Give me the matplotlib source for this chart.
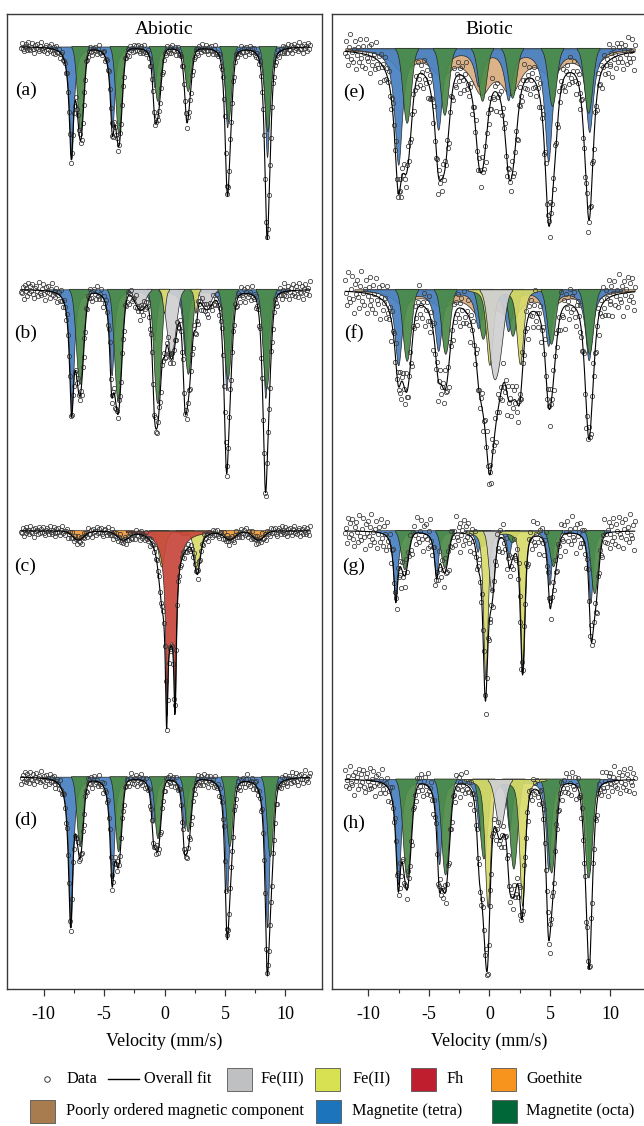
import numpy as np
import matplotlib.pyplot as plt
from matplotlib.patches import Rectangle
from matplotlib.colors import to_rgba

plt.rcParams['font.family'] = ['Liberation Serif', 'DejaVu Serif']
plt.rcParams['axes.unicode_minus'] = False

# velocity channels (mm/s)
vel = np.linspace(-11.9, 12.0, 300)
vel_fine = np.linspace(-11.9, 12.0, 2400)

# fixed residual pattern (units of the noise level of each spectrum)
resid = [0.3, -1.2, 0.8, 1.5, -0.4, -0.9, 0.1, 1.1, -1.6, 0.5, 0.9, -0.2, -1.3, 0.6, 1.8,
         -0.7, 0.2, -1.0, 0.4, 1.3, -0.5, -1.8, 0.7, 0.0, 1.0, -0.3, -1.1, 1.6, 0.2, -0.6,
         0.9, -1.4, 0.5, 1.2, -0.8, -0.1, 1.4, -1.5, 0.3, 0.6, -0.9, 1.7, -0.2, -1.2, 0.8,
         0.1, -0.4, 1.1, -1.7, 0.4, 0.7, -0.6, 1.9, -1.0, 0.2, -0.3, 1.2, -1.3, 0.6, -0.8]
noise = {'a': 3, 'b': 5, 'c': 3, 'd': 4, 'e': 10, 'f': 12, 'g': 10, 'h': 8}

# line positions (mm/s) and depths (px) of each fitted component
# (a) abiotic
a_tetra_v = [-7.71, -4.32, -0.83, 1.82, 5.18, 8.48]
a_tetra_d = [112, 80, 40, 35, 80, 110]
a_octa_v = [-6.94, -3.77, -0.55, 1.96, 5.30, 8.55]
a_octa_d = [85, 88, 55, 45, 75, 85]
# (b)
b_tetra_v = [-7.69, -4.38, -0.85, 1.68, 5.12, 8.34]
b_tetra_d = [121, 85, 50, 65, 100, 108]
b_octa_v = [-6.99, -3.83, -0.57, 1.97, 5.25, 8.45]
b_octa_d = [95, 112, 114, 85, 90, 100]
b_fe3_v = [-2.0, 0.58, 3.5]
b_fe3_d = [18, 65, 17]
b_fe2_v = [0.0, 2.6]
b_fe2_d = [24, 24]
# (c)
c_fh_v = [0.17, 0.86, 0.5]
c_fh_d = [125, 125, 85]
c_fh_w = [0.12, 0.12, 0.45]
c_fe2_v = [-0.24, 2.71]
c_fe2_d = [36, 39]
c_gt_v = [-7.14, -3.42, -0.4, 1.7, 5.41, 7.76]
c_gt_d = [9, 8, 5, 5, 8, 9]
# (d)
d_tetra_v = [-7.77, -4.34, -0.93, 1.63, 5.16, 8.48]
d_tetra_d = [150, 101, 45, 50, 114, 150]
d_octa_v = [-6.98, -3.80, -0.54, 1.96, 5.40, 8.75]
d_octa_d = [70, 75, 62, 55, 70, 80]
# (e) biotic
e_tetra_v = [-7.53, -4.23, -0.92, 1.55, 4.86, 8.25]
e_tetra_d = [115, 79, 35, 49, 111, 82]
e_octa_v = [-6.79, -3.68, -0.56, 1.92, 5.22, 8.2]
e_octa_d = [75, 67, 53, 50, 58, 65]
e_pomc_v = [-7.2, -4.0, -0.7, 1.75, 5.05, 8.2]
e_pomc_d = [20, 22, 38, 38, 22, 20]
# (f)
f_tetra_v = [-7.53, -4.23, -0.92, 1.55, 4.86, 8.2]
f_tetra_d = [75, 60, 37, 40, 55, 70]
f_octa_v = [-6.79, -3.6, -0.5, 1.95, 5.13, 8.28]
f_octa_d = [72, 65, 50, 47, 55, 65]
f_pomc_v = [-7.2, -3.95, -0.7, 1.75, 5.0, 8.2]
f_pomc_d = [13, 14, 24, 24, 14, 13]
f_fe2_v = [0.0, 2.52]
f_fe2_d = [75, 74]
f_fe3_v = [0.25, 0.85]
f_fe3_d = [70, 50]
# (g)
g_tetra_v = [-7.73, -4.36, -0.93, 1.64, 5.0, 8.39]
g_tetra_d = [70, 45, 21, 25, 54, 72]
g_octa_v = [-6.98, -3.68, -0.56, 1.9, 5.3, 8.7]
g_octa_d = [39, 37, 16, 12, 36, 63]
g_fe2_v = [-0.33, 2.74]
g_fe2_d = [147, 142]
g_fe3_v = [0.18]
g_fe3_d = [60]
# (h)
h_tetra_v = [-7.53, -4.15, -0.85, 1.64, 4.86, 8.25]
h_tetra_d = [105, 84, 50, 50, 90, 91]
h_octa_v = [-6.79, -3.62, -0.45, 2.02, 5.14, 8.21]
h_octa_d = [99, 96, 80, 90, 94, 99]
h_fe2_v = [-0.15, 2.71]
h_fe2_d = [127, 126]
h_fe3_v = [0.87]
h_fe3_d = [48]

fill_col = {'fe3': '#D0D0D3', 'fe2': '#D8DA6A', 'fh': '#C8463B', 'gt': '#F29A35',
            'pomc': '#D9AC7E', 'tetra': '#4680C2', 'octa': '#4B8B47'}


def profile(v, pos, depth, w, eta):
    # pseudo-Voigt lines; w = half width at half depth (mm/s), eta = Lorentzian share
    d = np.asarray(v)[:, None] - np.asarray(pos)
    w = np.asarray(w, float)
    lor = w**2 / (d**2 + w**2)
    gau = np.exp(-np.log(2) * d**2 / w**2)
    return (np.asarray(depth) * (eta * lor + (1 - eta) * gau)).sum(axis=1)


# (label, baseline row, components: kind, positions, depths, half width, eta)
left_panels = [
    ('a', 46.5, [('tetra', a_tetra_v, a_tetra_d, 0.22, 1.0),
                 ('octa', a_octa_v, a_octa_d, 0.3, 0.0)]),
    ('b', 289.3, [('tetra', b_tetra_v, b_tetra_d, 0.22, 1.0),
                  ('octa', b_octa_v, b_octa_d, 0.35, 0.0),
                  ('fe3', b_fe3_v, b_fe3_d, [0.5, 0.45, 0.5], 0.0),
                  ('fe2', b_fe2_v, b_fe2_d, 0.15, 0.5)]),
    ('c', 530.7, [('gt', c_gt_v, c_gt_d, 0.55, 0.0),
                  ('fe2', c_fe2_v, c_fe2_d, 0.3, 0.5),
                  ('fh', c_fh_v, c_fh_d, c_fh_w, 1.0)]),
    ('d', 776.7, [('tetra', d_tetra_v, d_tetra_d, 0.22, 1.0),
                  ('octa', d_octa_v, d_octa_d, 0.3, 0.0)]),
]
right_panels = [
    ('e', 48.3, [('pomc', e_pomc_v, e_pomc_d, 1.0, 1.0),
                 ('tetra', e_tetra_v, e_tetra_d, 0.38, 1.0),
                 ('octa', e_octa_v, e_octa_d, 0.4, 0.0)]),
    ('f', 289.3, [('pomc', f_pomc_v, f_pomc_d, 1.0, 1.0),
                  ('tetra', f_tetra_v, f_tetra_d, 0.36, 1.0),
                  ('octa', f_octa_v, f_octa_d, 0.4, 0.0),
                  ('fe2', f_fe2_v, f_fe2_d, 0.33, 0.5),
                  ('fe3', f_fe3_v, f_fe3_d, 0.45, 0.0)]),
    ('g', 530.7, [('tetra', g_tetra_v, g_tetra_d, 0.22, 1.0),
                  ('octa', g_octa_v, g_octa_d, 0.35, 0.0),
                  ('fe2', g_fe2_v, g_fe2_d, 0.22, 0.5),
                  ('fe3', g_fe3_v, g_fe3_d, 0.3, 0.0)]),
    ('h', 779.0, [('tetra', h_tetra_v, h_tetra_d, 0.25, 1.0),
                  ('octa', h_octa_v, h_octa_d, 0.38, 0.0),
                  ('fe2', h_fe2_v, h_fe2_d, 0.28, 0.5),
                  ('fe3', h_fe3_v, h_fe3_d, 0.45, 0.0)]),
]

W, H = 644, 1126
fig = plt.figure(figsize=(W / 100, H / 100), dpi=100)
ax_l = fig.add_axes([7.4 / W, 1 - 989 / H, 314.3 / W, 975 / H])
ax_r = fig.add_axes([332 / W, 1 - 989 / H, 314.8 / W, 975 / H])

for k, (ax, panels, title) in enumerate([(ax_l, left_panels, 'Abiotic'), (ax_r, right_panels, 'Biotic')]):
    for j, (lab, base, comps) in enumerate(panels):
        fit_ch = np.zeros_like(vel)
        fit_fine = np.zeros_like(vel_fine)
        for kind, pos, dep, w, eta in comps:
            yf = profile(vel_fine, pos, dep, w, eta)
            fit_fine += yf
            fit_ch += profile(vel, pos, dep, w, eta)
            # only draw the part of a component that is deeper than a pixel or so
            ax.fill_between(vel_fine, base, base + yf, where=yf > 1.5, interpolate=True,
                            facecolor=to_rgba(fill_col[kind], 0.92),
                            edgecolor='#262626', linewidth=0.5, zorder=2)
        res = np.roll(np.resize(resid, vel.size), 11 * (4 * k + j))
        ax.plot(vel, base + fit_ch + noise[lab] * res, 'o', ms=3.1, mfc='none',
                mec='#3a3a3a', mew=0.55, zorder=3)
        ax.plot(vel_fine, base + fit_fine, color='black', lw=0.8, zorder=4)
        ax.text(-11.5 if k == 0 else -11.2, base + 44 if j != 2 else base + 36, '(%s)' % lab,
                fontsize=14, ha='center', va='center')
    ax.text(0, 29, title, fontsize=14, ha='center', va='center')
    ax.set_xlim(-13, 13)
    ax.set_ylim(989, 14)
    ax.set_yticks([])
    ax.set_xticks([-10, -5, 0, 5, 10])
    ax.set_xticks([-7.5, -2.5, 2.5, 7.5], minor=True)
    ax.tick_params(axis='x', which='major', direction='out', length=5, width=0.9,
                   labelsize=13, pad=7, color='#333333')
    ax.tick_params(axis='x', which='minor', direction='out', length=3, width=0.8, color='#333333')
    ax.set_xlabel('Velocity (mm/s)', fontsize=13, labelpad=7)
    for s in ax.spines.values():
        s.set_linewidth(1.0)
        s.set_color('#3a3a3a')

# legend drawn in pixel units
lax = fig.add_axes([0, 0, 1, 86 / H])
lax.set_xlim(0, W)
lax.set_ylim(H, 1040)
lax.axis('off')
legend_boxes = [
    (227, 1079, '#BFC0C2', 'Fe(III)', 260), (315, 1079, '#D7E152', 'Fe(II)', 352),
    (411, 1079, '#BE1E2D', 'Fh', 446), (491, 1079, '#F7941D', 'Goethite', 526),
    (30, 1111, '#A97C50', 'Poorly ordered magnetic component', 66),
    (316, 1111, '#1C75BC', 'Magnetite (tetra)', 352), (492, 1111, '#006838', 'Magnetite (octa)', 526),
]
lax.plot([47], [1079], 'o', ms=4, mfc='white', mec='#3a3a3a', mew=0.7)
lax.text(66, 1079, 'Data', fontsize=11.7, va='center')
lax.plot([108, 139], [1079, 1079], color='black', lw=1)
lax.text(144, 1079, 'Overall fit', fontsize=11.7, va='center')
for x, y, c, t, tx in legend_boxes:
    lax.add_patch(Rectangle((x, y - 11.5), 25, 23, facecolor=c, edgecolor='#555555', lw=0.6))
    lax.text(tx, y, t, fontsize=11.7, va='center')

fig.savefig('out.png', dpi=100)
